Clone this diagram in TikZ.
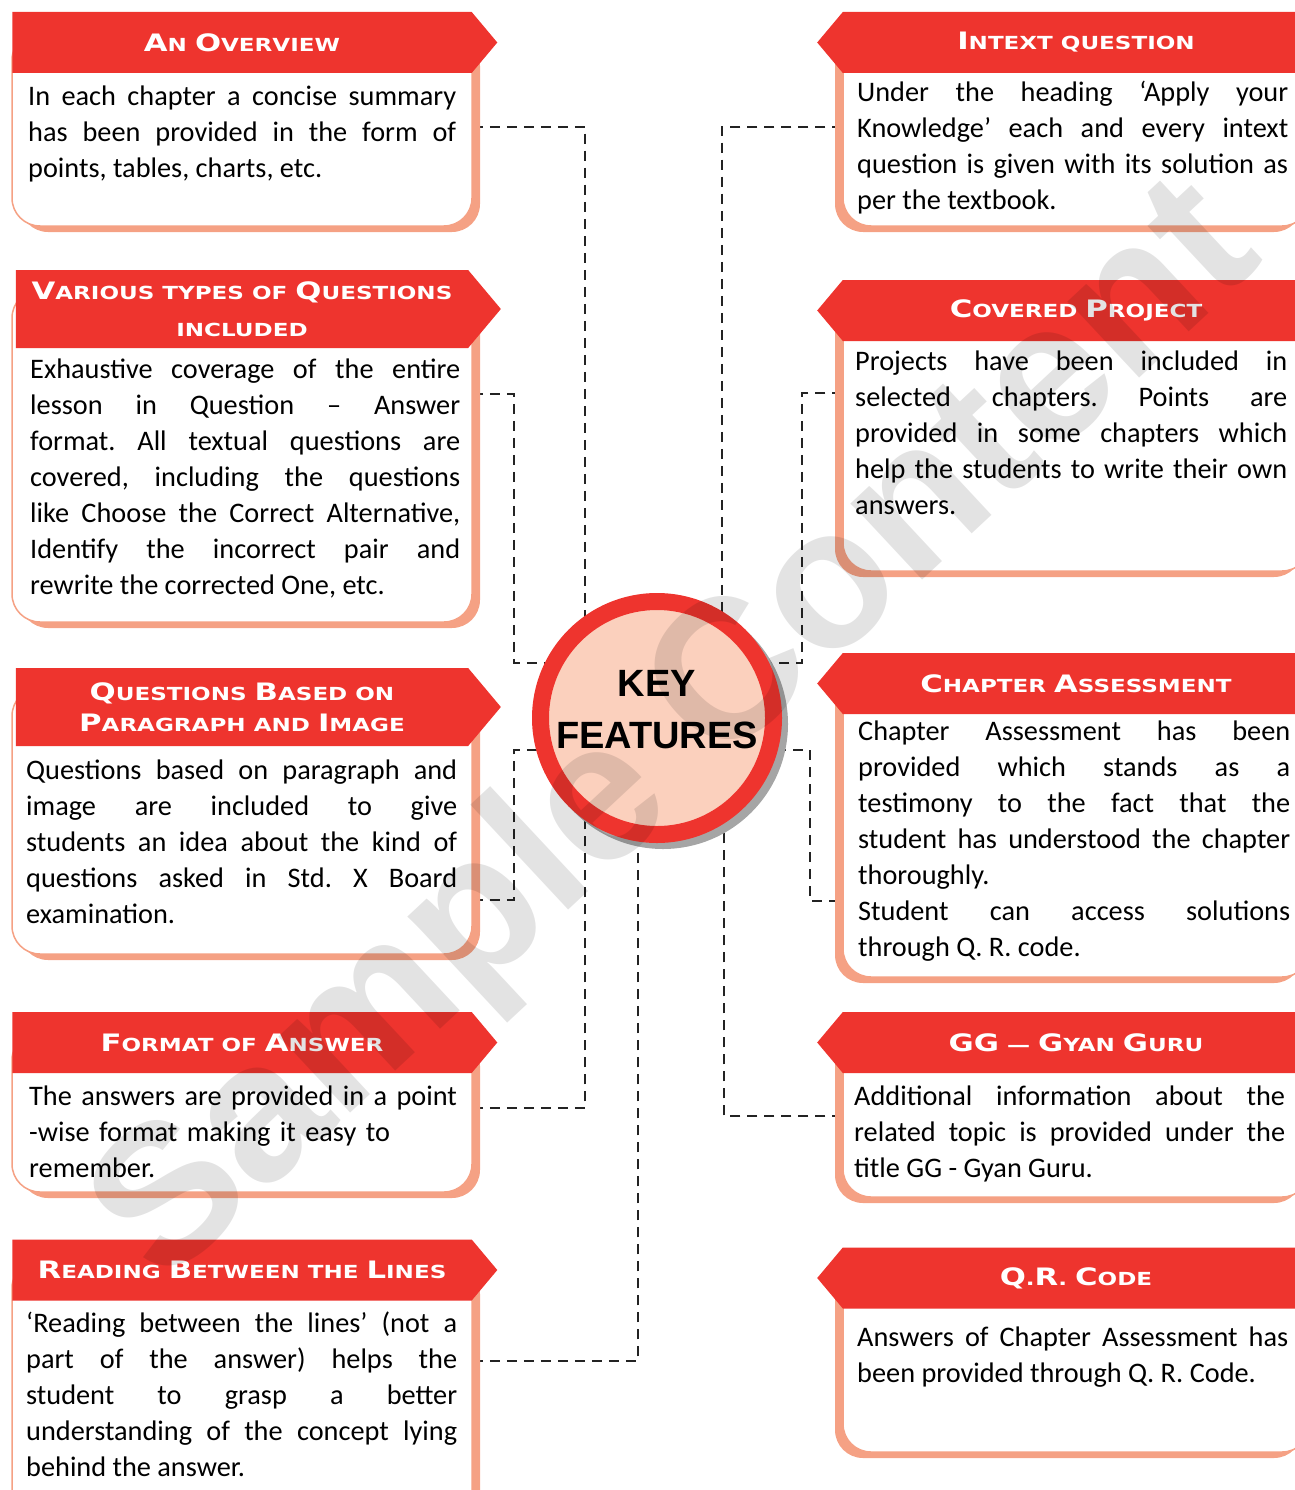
\documentclass[tikz,border=0pt]{standalone}
\usepackage{fontspec}
\setmainfont{Carlito}
\newfontfamily\headfont[FakeStretch=1.28]{DejaVu Sans}
\newfontfamily\keyfont{Liberation Sans}
\usepackage{tikz}
\usetikzlibrary{shapes.symbols, shadows, backgrounds, positioning}
\definecolor{headred}{RGB}{238, 52, 46}
\definecolor{edgecolor}{RGB}{245, 161, 132}
\definecolor{keyfill}{RGB}{251, 208, 189}
\definecolor{keyshade}{RGB}{165, 165, 165}
\definecolor{linkcolor}{RGB}{35, 35, 35}
\newcommand{\hc}[1]{{\fontsize{24}{34}\selectfont #1}}
\tikzstyle{headl} = [signal, signal to=east, signal pointer angle=100, fill=headred, text=white, minimum width=485pt, minimum height=61pt, inner sep=0pt, align=center, font={\headfont\bfseries\fontsize{18}{34}\selectfont}]
\tikzstyle{headr} = [headl, signal to=west, minimum width=492pt]
\tikzstyle{cardl} = [rectangle, rounded corners=28pt, draw=edgecolor, line width=1.5pt, fill=white, minimum width=460pt, drop shadow={shadow xshift=8pt, shadow yshift=-6pt, fill=edgecolor, opacity=1}]
\tikzstyle{cardr} = [rectangle, rounded corners=28pt, draw=edgecolor, line width=1.5pt, fill=white, minimum width=467pt, drop shadow={shadow xshift=-8pt, shadow yshift=-6pt, fill=edgecolor, opacity=1}]
\tikzstyle{blurb} = [anchor=north west, inner sep=0pt, text width=431pt, align=justify, font={\frenchspacing\fontsize{28.3}{36}\selectfont}]
\tikzstyle{keycircle} = [circle, draw=headred, line width=17pt, fill=keyfill, minimum size=233pt, inner sep=0pt, align=center, text depth=18pt, font={\keyfont\bfseries\fontsize{38}{52}\selectfont}, drop shadow={shadow xshift=6pt, shadow yshift=-6pt, draw=keyshade, line width=17pt, fill=keyshade, opacity=1}]
\tikzstyle{link} = [draw=linkcolor, line width=2.5pt, dash pattern=on 10pt off 7pt]

\begin{document}
\begin{tikzpicture}[x=1pt, y=-1pt]
\useasboundingbox (0,0) rectangle (1294,1490);

% Left column
\node (ovcard) [cardl, minimum height=194pt] at (242,129) {};
\node (ovhead) [headl] at (242,42.5) {\hc{A}N \hc{O}VERVIEW};
\node (ovtext) [blurb, text width=428pt] at (28,86) {In each chapter a concise summary\linebreak has been provided in the form of\linebreak points, tables, charts, etc.};

\node (typcard) [cardl, minimum height=332pt] at (242,456) {};
\node (typhead) [headl, minimum height=78pt] at (242,309) {\hc{V}ARIOUS TYPES OF \hc{Q}UESTIONS\\[3pt] INCLUDED};
\node (typtext) [blurb, text width=430pt] at (30,359) {Exhaustive coverage of the entire\linebreak lesson in Question -- Answer\linebreak format. All textual questions are\linebreak covered, including the questions\linebreak like Choose the Correct Alternative,\linebreak Identify the incorrect pair and\linebreak rewrite the corrected One, etc.};

\node (parcard) [cardl, minimum height=266pt] at (242,821) {};
\node (parhead) [headl, minimum height=78pt] at (242,707) {\hc{Q}UESTIONS \hc{B}ASED ON\\[-3pt] \hc{P}ARAGRAPH AND \hc{I}MAGE};
\node (partext) [blurb] at (26,760) {Questions based on paragraph and\linebreak image are included to give\linebreak students an idea about the kind of\linebreak questions asked in Std. X Board\linebreak examination.};

\node (fmtcard) [cardl, minimum height=160pt] at (242,1112) {};
\node (fmthead) [headl] at (242,1042.5) {\hc{F}ORMAT OF \hc{A}NSWER};
\node (fmttext) [blurb, text width=440pt, align=left] at (29,1086) {The answers are provided in a point\\ -wise format making it easy to\\ remember.};

\node (rdgcard) [cardl, minimum height=260pt] at (242,1390) {};
\node (rdghead) [headl] at (242,1270) {\hc{R}EADING \hc{B}ETWEEN THE \hc{L}INES};
\node (rdgtext) [blurb] at (26,1312) {‘Reading between the lines’ (not a\linebreak part of the answer) helps the\linebreak student to grasp a better\linebreak understanding of the concept lying\linebreak behind the answer.};

% Right column
\node (itqcard) [cardr, minimum height=194pt] at (1076.5,129) {};
\node (itqhead) [headr] at (1076,42.5) {\hc{I}NTEXT QUESTION};
\node (itqtext) [blurb] at (857,81) {Under the heading ‘Apply your\linebreak Knowledge’ each and every intext\linebreak question is given with its solution as\linebreak per the textbook.};

\node (prjcard) [cardr, minimum height=272pt] at (1076.5,435) {};
\node (prjhead) [headr] at (1076,310.5) {\hc{C}OVERED \hc{P}ROJECT};
\node (prjtext) [blurb, text width=432pt] at (855,351) {Projects have been included in\linebreak selected chapters. Points are\linebreak provided in some chapters which\linebreak help the students to write their own\linebreak answers.};

\node (asmcard) [cardr, minimum height=304pt] at (1076.5,825) {};
\node (asmhead) [headr] at (1076,683.5) {\hc{C}HAPTER \hc{A}SSESSMENT};
\node (asmtext) [blurb, text width=432pt] at (858,721) {Chapter Assessment has been\linebreak provided which stands as a\linebreak testimony to the fact that the\linebreak student has understood the chapter\linebreak thoroughly.\\ Student can access solutions\linebreak through Q. R. code.};

\node (ggcard) [cardr, minimum height=165pt] at (1076.5,1114.5) {};
\node (gghead) [headr] at (1076,1042.5) {\hc{GG} — \hc{G}YAN \hc{G}URU};
\node (ggtext) [blurb] at (854,1086) {Additional information about the\linebreak related topic is provided under the\linebreak title GG - Gyan Guru.};

\node (qrcard) [cardr, minimum height=185pt] at (1076.5,1359.5) {};
\node (qrhead) [headr] at (1076,1278) {\hc{Q}.\hc{R}. \hc{C}ODE};
\node (qrtext) [blurb] at (857,1327) {Answers of Chapter Assessment has\linebreak been provided through Q. R. Code.};

% Centre
\node (key) [keycircle] at (657,718) {KEY\\FEATURES};

% Dashed links
\begin{scope}[on background layer]
\draw [link] ([yshift=2pt]ovcard.east) -| ([xshift=-72pt]key.center);
\draw [link] ([yshift=62pt]typcard.east) -| ([xshift=-143pt,yshift=55pt]key.center) -- ([yshift=55pt]key.center);
\draw [link] ([yshift=-79pt]parcard.east) -| ([xshift=-143pt,yshift=-32pt]key.center) -- ([yshift=-32pt]key.center);
\draw [link] ([yshift=4pt]fmtcard.east) -| ([xshift=-72pt]key.center);
\draw [link] ([yshift=29pt]rdgcard.east) -| ([xshift=-19pt]key.center);
\draw [link] ([yshift=2pt]itqcard.west) -| ([xshift=65pt]key.center);
\draw [link] ([yshift=42pt]prjcard.west) -| ([xshift=145pt,yshift=55pt]key.center) -- ([yshift=55pt]key.center);
\draw [link] ([yshift=-32pt]key.center) -- ([xshift=153pt,yshift=-32pt]key.center) |- ([yshift=-76pt]asmcard.west);
\draw [link] ([yshift=-1.5pt]ggcard.west) -| ([xshift=67pt]key.center);
\end{scope}

% Watermark
\node (mark) [rotate=43, opacity=0.11, font={\keyfont\bfseries\fontsize{198}{198}\selectfont}] at (680,736) {Sample Content};

\end{tikzpicture}
\end{document}
